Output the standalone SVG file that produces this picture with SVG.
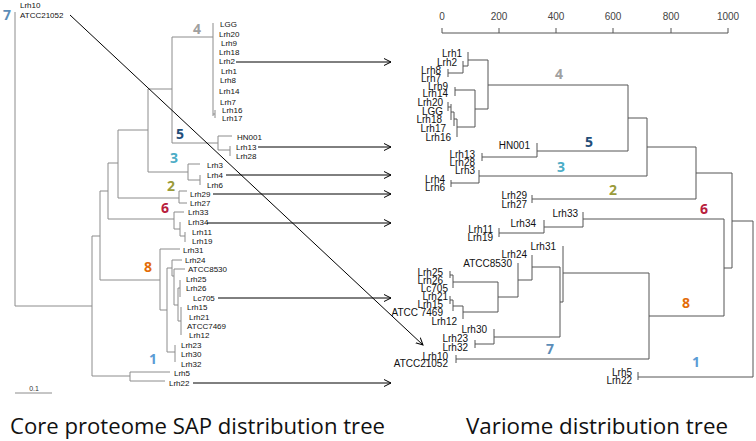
<svg xmlns="http://www.w3.org/2000/svg" width="756" height="441" viewBox="0 0 756 441">
<defs>
<style>
.lt{font-family:"Liberation Sans",Arial,sans-serif;font-size:8px;fill:#111}
.rt{font-family:"Liberation Sans",Arial,sans-serif;font-size:10px;fill:#111;text-anchor:end}
.ax{font-family:"Liberation Sans",Arial,sans-serif;font-size:10px;fill:#444;text-anchor:middle}
.cl{font-family:"Open Sans","Noto Sans",sans-serif;font-size:14px;font-weight:bold;text-anchor:middle}
.tt{font-family:"Open Sans","Noto Sans",sans-serif;font-size:22px;fill:#111}
.lb{fill:none;stroke:#8c8c8c;stroke-width:1}
.rb{fill:none;stroke:#555;stroke-width:1}
.ar{fill:none;stroke:#000;stroke-width:1;marker-end:url(#ah)}
</style>
<marker id="ah" markerUnits="userSpaceOnUse" markerWidth="9" markerHeight="9" refX="7" refY="4" orient="auto">
<path d="M0,0.5 L7,4 L0,7.5" fill="none" stroke="#000" stroke-width="1"/>
</marker>
</defs>
<rect width="756" height="441" fill="#fff"/>

<!-- Left tree branches -->
<g id="left-tree">
<path class="lb" d="M15,12 V306 H92 M92,236 V376 M92,236 H100 M92,376 H130
M130,372 V381 M130,372 H170 M130,381 H165
M100,191 V280 M100,191 H108 M100,280 H160
M108,163 V219 M108,163 H118 M108,219 H174
M118,130 V198 M118,130 H148 M118,198 H179
M148,89 V172 M148,89 H172 M148,172 H188
M172,37 V143 M172,37 H213 M172,143 H218
M213,23 V116 M215,110 V118 M213,114 H215
M218,136 V150 M218,136 H232 M218,150 H230 M230,146 V156
M188,164 V180 M188,164 H200 M188,180 H200 M200,175 V185
M179,191 V203 M179,191 H187 M179,203 H187
M174,212 V229 M174,212 H184 M174,229 H180 M180,222 V236 M180,236 H185 M185,232 V242
M160,249 V310 M160,249 H180 M160,310 H167 M167,268 V352 M167,352 H175 M175,345 V362
M167,268 H172 M172,260 V276 M172,260 H182 M172,276 H174 M174,269 V305 M174,269 H185
M174,305 H178 M178,288 V321 M178,288 H180 M180,280 V297 M178,321 H181 M181,307 V335"/>
<path class="lb" d="M15,393 H52"/>
<text x="34" y="391" text-anchor="middle" style="font-family:'Liberation Sans',Arial,sans-serif;font-size:7px;fill:#333">0.1</text>
</g>

<!-- Left leaves -->
<g id="left-leaves" class="lt">
<text x="20" y="8">Lrh10</text>
<text x="20" y="18">ATCC21052</text>
<text x="220" y="27">LGG</text>
<text x="219" y="37">Lrh20</text>
<text x="221" y="46">Lrh9</text>
<text x="219" y="55">Lrh18</text>
<text x="219" y="64">Lrh2</text>
<text x="221" y="74">Lrh1</text>
<text x="220" y="83">Lrh8</text>
<text x="219" y="94">Lrh14</text>
<text x="220" y="105">Lrh7</text>
<text x="222" y="113">Lrh16</text>
<text x="222" y="121">Lrh17</text>
<text x="237" y="140">HN001</text>
<text x="236" y="150">Lrh13</text>
<text x="236" y="159">Lrh28</text>
<text x="207" y="168">Lrh3</text>
<text x="207" y="178">Lrh4</text>
<text x="207" y="188">Lrh6</text>
<text x="190" y="197">Lrh29</text>
<text x="190" y="206">Lrh27</text>
<text x="188" y="215">Lrh33</text>
<text x="188" y="225">Lrh34</text>
<text x="192" y="235">Lrh11</text>
<text x="192" y="244">Lrh19</text>
<text x="183" y="253">Lrh31</text>
<text x="185" y="263">Lrh24</text>
<text x="188" y="272">ATCC8530</text>
<text x="186" y="282">Lrh25</text>
<text x="186" y="291">Lrh26</text>
<text x="193" y="301">Lc705</text>
<text x="187" y="310">Lrh15</text>
<text x="189" y="320">Lrh21</text>
<text x="187" y="329">ATCC7469</text>
<text x="189" y="338">Lrh12</text>
<text x="181" y="348">Lrh23</text>
<text x="181" y="357">Lrh30</text>
<text x="181" y="367">Lrh32</text>
<text x="174" y="376">Lrh5</text>
<text x="169" y="386">Lrh22</text>
</g>

<!-- Left cluster labels -->
<g id="left-clusters" class="cl">
<text x="7" y="20" fill="#5b8db8">7</text>
<text x="197" y="34" fill="#a0a0a0">4</text>
<text x="180" y="139" fill="#1f4e79">5</text>
<text x="174" y="163" fill="#4bacc6">3</text>
<text x="171" y="191" fill="#9b9b3a">2</text>
<text x="165" y="213" fill="#b8203c">6</text>
<text x="148" y="272" fill="#e36c09">8</text>
<text x="153" y="364" fill="#5b9bd5">1</text>
</g>

<!-- Right axis -->
<g id="axis">
<path class="rb" d="M442,33 H728 M442,28 V33 M499,28 V33 M556,28 V33 M613,28 V33 M671,28 V33 M728,28 V33"/>
<g class="ax">
<text x="442" y="20">0</text>
<text x="499" y="20">200</text>
<text x="556" y="20">400</text>
<text x="613" y="20">600</text>
<text x="671" y="20">800</text>
<text x="728" y="20">1000</text>
</g>
</g>

<!-- Right tree branches -->
<g id="right-tree">
<path class="rb" d="M468,52 V66 M463,61 V73 M448,73 H463 M448,69 V77 M463,66 H468
M455,87 V96 M455,90 H475
M448,102 V111 M451,104 V120 M448,107 H451 M454,112 V126 M451,112 H454 M457,119 V137 M454,119 H457 M457,127 H475
M475,90 V127 M475,109 H488
M468,60 H488 M488,60 V109 M488,85 H628
M537,143 V157 M482,157 H537 M482,153 V161 M537,151 H628
M628,85 V151 M628,118 H647
M479,170 V183 M451,183 H479 M451,180 V187 M479,176 H647
M647,118 V176 M647,147 H696
M532,195 V203 M532,199 H696
M696,147 V199 M696,173 H732
M583,212 V227 M544,227 H583 M544,220 V233 M499,233 H544 M499,228 V237 M583,219 H724
M450,271 V278 M450,275 H453 M453,275 V288 M453,282 H498
M450,296 V304 M450,300 H453 M453,300 V311 M453,306 H463 M463,306 V319 M463,312 H498
M498,282 V312 M498,297 H518
M518,263 V297 M518,280 H532
M532,255 V280 M532,267 H560
M475,340 V348 M475,344 H494 M494,329 V344 M494,337 H560
M560,267 V337 M560,302 H563
M563,246 V302 M563,273 H649
M456,355 V363 M456,359 H649
M649,273 V359 M649,316 H724
M724,219 V316 M724,268 H732
M732,173 V268 M732,221 H753
M638,372 V380 M638,377 H753
M753,221 V377"/>
</g>

<!-- Right leaves -->
<g id="right-leaves" class="rt">
<text x="462" y="57">Lrh1</text>
<text x="457" y="66">Lrh2</text>
<text x="441" y="74">Lrh8</text>
<text x="441" y="82">Lrh7</text>
<text x="448" y="90">Lrh9</text>
<text x="448" y="97">Lrh14</text>
<text x="443" y="106">Lrh20</text>
<text x="443" y="115">LGG</text>
<text x="442" y="123">Lrh18</text>
<text x="446" y="132">Lrh17</text>
<text x="451" y="141">Lrh16</text>
<text x="530" y="149">HN001</text>
<text x="475" y="158">Lrh13</text>
<text x="475" y="166">Lrh28</text>
<text x="475" y="174">Lrh3</text>
<text x="445" y="183">Lrh4</text>
<text x="445" y="191">Lrh6</text>
<text x="527" y="199">Lrh29</text>
<text x="527" y="208">Lrh27</text>
<text x="578" y="217">Lrh33</text>
<text x="536" y="227">Lrh34</text>
<text x="493" y="233">Lrh11</text>
<text x="493" y="241">Lrh19</text>
<text x="556" y="250">Lrh31</text>
<text x="527" y="258">Lrh24</text>
<text x="512" y="267">ATCC8530</text>
<text x="443" y="276">Lrh25</text>
<text x="443" y="284">Lrh26</text>
<text x="448" y="292">Lc705</text>
<text x="448" y="300">Lrh21</text>
<text x="443" y="308">Lrh15</text>
<text x="443" y="316">ATCC 7469</text>
<text x="457" y="325">Lrh12</text>
<text x="487" y="333">Lrh30</text>
<text x="468" y="342">Lrh23</text>
<text x="468" y="351">Lrh32</text>
<text x="448" y="360">Lrh10</text>
<text x="448" y="367">ATCC21052</text>
<text x="632" y="376">Lrh5</text>
<text x="632" y="384">Lrh22</text>
</g>

<!-- Right cluster labels -->
<g id="right-clusters" class="cl">
<text x="559" y="79" fill="#a0a0a0">4</text>
<text x="589" y="147" fill="#1f4e79">5</text>
<text x="561" y="172" fill="#4bacc6">3</text>
<text x="613" y="195" fill="#9b9b3a">2</text>
<text x="704" y="214" fill="#b8203c">6</text>
<text x="686" y="308" fill="#e36c09">8</text>
<text x="550" y="354" fill="#5b8db8">7</text>
<text x="696" y="367" fill="#5b9bd5">1</text>
</g>

<!-- Connectors -->
<g id="connectors">
<path class="ar" d="M236,62 H391"/>
<path class="ar" d="M258,147 H391"/>
<path class="ar" d="M226,175 H391"/>
<path class="ar" d="M213,194 H391"/>
<path class="ar" d="M207,223 H391"/>
<path class="ar" d="M218,298 H391"/>
<path class="ar" d="M193,383 H391"/>
<path class="ar" d="M70,15 L423,345"/>
</g>

<!-- Titles -->
<g id="titles" class="tt">
<text x="10" y="434" textLength="375" lengthAdjust="spacingAndGlyphs">Core proteome SAP distribution tree</text>
<text x="466" y="434" textLength="262" lengthAdjust="spacingAndGlyphs">Variome distribution tree</text>
</g>
</svg>
